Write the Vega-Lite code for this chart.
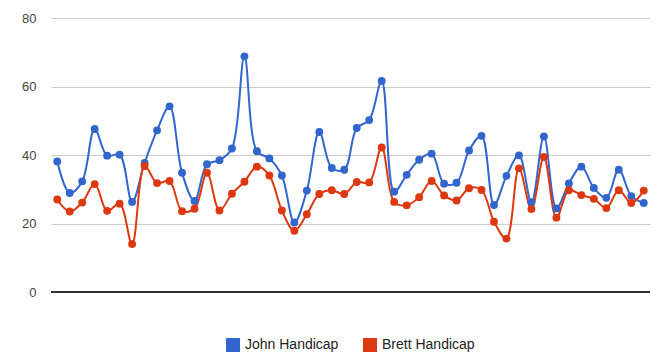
{
  "$schema": "https://vega.github.io/schema/vega-lite/v6.json",
  "width": 599,
  "height": 274,
  "autosize": "none",
  "padding": {"left": 51, "top": 18, "right": 12, "bottom": 69},
  "background": "#ffffff",
  "config": {
    "view": {"stroke": null},
    "font": "Liberation Sans"
  },
  "data": {
    "values": [
      {"game": 1, "John Handicap": 38.1, "Brett Handicap": 27.0},
      {"game": 2, "John Handicap": 28.9, "Brett Handicap": 23.5},
      {"game": 3, "John Handicap": 32.3, "Brett Handicap": 26.1},
      {"game": 4, "John Handicap": 47.6, "Brett Handicap": 31.5},
      {"game": 5, "John Handicap": 39.8, "Brett Handicap": 23.7},
      {"game": 6, "John Handicap": 40.1, "Brett Handicap": 25.8},
      {"game": 7, "John Handicap": 26.3, "Brett Handicap": 14.0},
      {"game": 8, "John Handicap": 37.7, "Brett Handicap": 36.8},
      {"game": 9, "John Handicap": 47.2, "Brett Handicap": 31.8},
      {"game": 10, "John Handicap": 54.2, "Brett Handicap": 32.4},
      {"game": 11, "John Handicap": 34.8, "Brett Handicap": 23.6},
      {"game": 12, "John Handicap": 26.6, "Brett Handicap": 24.3},
      {"game": 13, "John Handicap": 37.3, "Brett Handicap": 34.8},
      {"game": 14, "John Handicap": 38.5, "Brett Handicap": 23.8},
      {"game": 15, "John Handicap": 41.9, "Brett Handicap": 28.7},
      {"game": 16, "John Handicap": 68.8, "Brett Handicap": 32.2},
      {"game": 17, "John Handicap": 41.1, "Brett Handicap": 36.6},
      {"game": 18, "John Handicap": 39.0, "Brett Handicap": 34.0},
      {"game": 19, "John Handicap": 34.0, "Brett Handicap": 23.8},
      {"game": 20, "John Handicap": 20.3, "Brett Handicap": 17.9},
      {"game": 21, "John Handicap": 29.6, "Brett Handicap": 22.7},
      {"game": 22, "John Handicap": 46.7, "Brett Handicap": 28.6},
      {"game": 23, "John Handicap": 36.2, "Brett Handicap": 29.7},
      {"game": 24, "John Handicap": 35.7, "Brett Handicap": 28.6},
      {"game": 25, "John Handicap": 47.9, "Brett Handicap": 32.1},
      {"game": 26, "John Handicap": 50.2, "Brett Handicap": 32.0},
      {"game": 27, "John Handicap": 61.6, "Brett Handicap": 42.2},
      {"game": 28, "John Handicap": 29.3, "Brett Handicap": 26.3},
      {"game": 29, "John Handicap": 34.2, "Brett Handicap": 25.3},
      {"game": 30, "John Handicap": 38.6, "Brett Handicap": 27.7},
      {"game": 31, "John Handicap": 40.4, "Brett Handicap": 32.4},
      {"game": 32, "John Handicap": 31.6, "Brett Handicap": 28.2},
      {"game": 33, "John Handicap": 31.9, "Brett Handicap": 26.7},
      {"game": 34, "John Handicap": 41.3, "Brett Handicap": 30.3},
      {"game": 35, "John Handicap": 45.6, "Brett Handicap": 29.8},
      {"game": 36, "John Handicap": 25.4, "Brett Handicap": 20.5},
      {"game": 37, "John Handicap": 33.9, "Brett Handicap": 15.6},
      {"game": 38, "John Handicap": 39.9, "Brett Handicap": 36.1},
      {"game": 39, "John Handicap": 26.2, "Brett Handicap": 24.2},
      {"game": 40, "John Handicap": 45.4, "Brett Handicap": 39.4},
      {"game": 41, "John Handicap": 24.4, "Brett Handicap": 21.7},
      {"game": 42, "John Handicap": 31.7, "Brett Handicap": 29.7},
      {"game": 43, "John Handicap": 36.6, "Brett Handicap": 28.3},
      {"game": 44, "John Handicap": 30.4, "Brett Handicap": 27.2},
      {"game": 45, "John Handicap": 27.5, "Brett Handicap": 24.5},
      {"game": 46, "John Handicap": 35.7, "Brett Handicap": 29.7},
      {"game": 47, "John Handicap": 28.0, "Brett Handicap": 26.0},
      {"game": 48, "John Handicap": 26.0, "Brett Handicap": 29.6}
    ]
  },
  "layer": [
    {
      "mark": {"type": "rule", "color": "#333333", "strokeWidth": 1},
      "encoding": {
        "y": {
          "datum": 0,
          "type": "quantitative",
          "scale": {"domain": [0, 80], "nice": false},
          "axis": {
            "title": null,
            "values": [0, 20, 40, 60, 80],
            "grid": true,
            "domain": false,
            "ticks": false,
            "labelPadding": 15,
            "labelFontSize": 13,
            "labelColor": "#444444",
            "labelFont": "Liberation Sans",
            "gridColor": "#cccccc",
            "gridWidth": 1,
            "gridOpacity": 1
          }
        }
      }
    },
    {
      "transform": [{"fold": ["John Handicap", "Brett Handicap"], "as": ["series", "value"]}],
      "mark": {"type": "line", "interpolate": "catmull-rom", "strokeWidth": 2, "point": {"size": 62, "filled": true, "opacity": 1}},
      "encoding": {
        "x": {"field": "game", "type": "quantitative", "scale": {"domain": [0.5, 48.5], "nice": false, "zero": false}, "axis": null},
        "y": {
          "field": "value",
          "type": "quantitative",
          "scale": {"domain": [0, 80], "nice": false}
        },
        "color": {
          "field": "series",
          "type": "nominal",
          "sort": ["John Handicap", "Brett Handicap"],
          "scale": {"domain": ["John Handicap", "Brett Handicap"], "range": ["#3366cc", "#dc3912"]},
          "legend": {
            "title": null,
            "orient": "none",
            "direction": "horizontal",
            "legendX": 175,
            "legendY": 320,
            "symbolType": "square",
            "symbolSize": 196,
            "symbolStrokeWidth": 0,
            "symbolOpacity": 1,
            "labelFontSize": 14,
            "labelColor": "#222222",
            "labelFont": "Liberation Sans",
            "labelOffset": 5,
            "columnPadding": 24
          }
        }
      }
    }
  ]
}
